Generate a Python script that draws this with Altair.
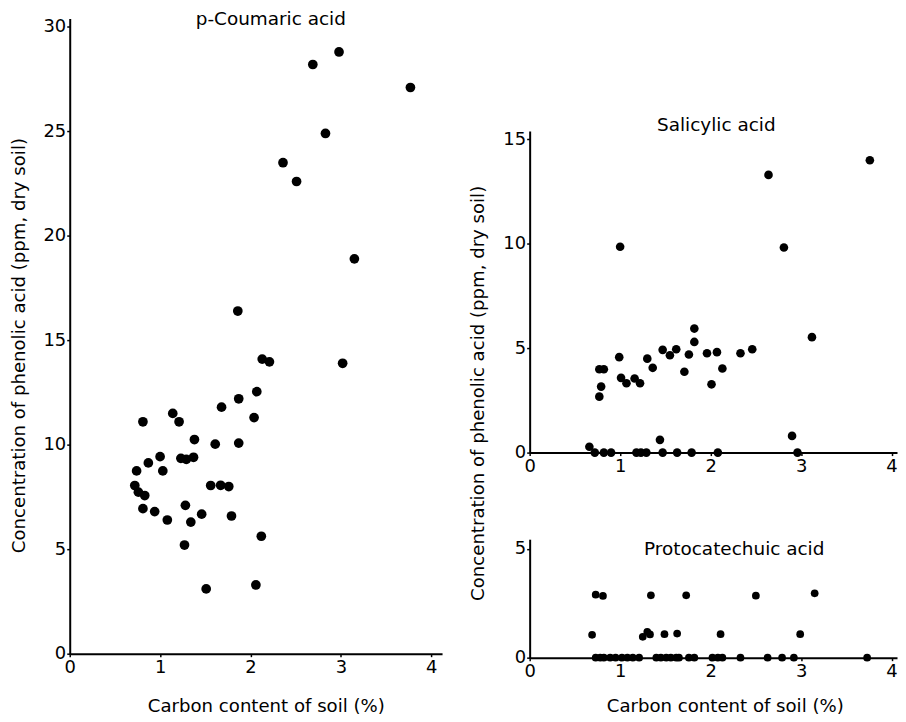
import altair as alt
import pandas as pd

# ---- p-Coumaric acid (carbon %, ppm) ----
pc_x = [2.13, 2.21, 3.02, 2.07, 1.87, 1.68, 2.04, 1.14, 1.21, 0.81, 1.38, 1.61, 1.87,
        1.00, 0.87, 0.74, 1.03, 1.23, 1.29, 1.37, 0.72, 0.76, 0.83, 1.56, 1.67, 1.76,
        0.81, 0.94, 1.08, 1.28, 1.34, 1.46, 1.79, 1.27, 2.12, 1.51, 2.06,
        2.98, 2.69, 3.77, 2.83, 2.36, 2.51, 3.15, 1.86]
pc_y = [14.1, 13.97, 13.9, 12.54, 12.2, 11.8, 11.3, 11.5, 11.1, 11.1, 10.25, 10.03, 10.08,
        9.43, 9.13, 8.75, 8.75, 9.35, 9.3, 9.4, 8.05, 7.73, 7.57, 8.05, 8.06, 8.0,
        6.94, 6.8, 6.4, 7.1, 6.3, 6.68, 6.59, 5.2, 5.62, 3.1, 3.29,
        28.8, 28.2, 27.1, 24.9, 23.5, 22.6, 18.9, 16.4]

# ---- Salicylic acid ----
sa_x = [3.76, 2.64, 1.00, 2.81, 1.82, 1.82, 3.12, 1.47, 1.55, 1.62, 1.76, 1.96, 2.07,
        2.33, 2.46, 0.99, 1.30, 1.36, 1.71, 2.13, 2.01, 0.77, 0.82, 0.79, 0.77, 1.01,
        1.07, 1.16, 1.22, 1.44, 2.90, 0.66,
        0.72, 0.82, 0.90, 1.18, 1.23, 1.29, 1.47, 1.63, 1.79, 2.08, 2.96]
sa_y = [14.0, 13.3, 9.86, 9.82, 5.94, 5.3, 5.53, 4.92, 4.66, 4.95, 4.7, 4.76, 4.81,
        4.76, 4.95, 4.57, 4.5, 4.06, 3.87, 4.03, 3.27, 3.99, 3.99, 3.16, 2.68, 3.58,
        3.32, 3.55, 3.32, 0.61, 0.8, 0.28,
        0, 0, 0, 0, 0, 0, 0, 0, 0, 0, 0]

# ---- Protocatechuic acid ----
pa_x = [0.73, 0.81, 1.34, 1.73, 2.50, 3.15, 0.69, 1.25, 1.30, 1.33, 1.49, 1.63, 2.11, 2.99,
        0.73, 0.78, 0.82, 0.89, 0.95, 1.02, 1.08, 1.14, 1.21, 1.40, 1.45, 1.51, 1.56,
        1.62, 1.65, 1.76, 1.82, 2.02, 2.08, 2.13, 2.33, 2.63, 2.79, 2.92, 3.73]
pa_y = [2.9, 2.84, 2.87, 2.87, 2.85, 2.96, 1.05, 0.96, 1.19, 1.07, 1.08, 1.11, 1.08, 1.08,
        0, 0, 0, 0, 0, 0, 0, 0, 0, 0, 0, 0, 0,
        0, 0, 0, 0, 0, 0, 0, 0, 0, 0, 0, 0]

FONT = "DejaVu Sans"
YTITLE = "Concentration of phenolic acid (ppm, dry soil)"
XTITLE = "Carbon content of soil (%)"


def panel(xs, ys, title, tdx, toff, xdom, width, ydom, height, yvals, size,
          xtitle=None, xtx=0, xty=0, ytitle=None, ytx=0, yty=0):
    df = pd.DataFrame({"carbon": xs, "conc": ys})
    xaxis_kw = dict(values=[0, 1, 2, 3, 4], format="d")
    if xtitle:
        xaxis_kw.update(title=xtitle, titleX=xtx, titleY=xty)
    else:
        xaxis_kw.update(title=None)
    yaxis_kw = dict(values=yvals, format="d")
    if ytitle:
        yaxis_kw.update(title=ytitle, titleX=ytx, titleY=yty)
    else:
        yaxis_kw.update(title=None)
    return (
        alt.Chart(df)
        .mark_circle(color="black", opacity=1, size=size)
        .encode(
            x=alt.X("carbon:Q", scale=alt.Scale(domain=xdom, nice=False, zero=False),
                    axis=alt.Axis(**xaxis_kw)),
            y=alt.Y("conc:Q", scale=alt.Scale(domain=ydom, nice=False, zero=False),
                    axis=alt.Axis(**yaxis_kw)),
        )
        .properties(
            width=width, height=height,
            title=alt.TitleParams(title, anchor="middle", frame="group", offset=toff, dx=tdx,
                                  baseline="alphabetic", font=FONT, fontSize=18.5,
                                  fontWeight="normal", color="black"),
        )
    )


left = panel(pc_x, pc_y, "p-Coumaric acid", 15, -26, [0, 4.12], 374, [0, 30.4], 638,
             [0, 5, 10, 15, 20, 25, 30], 95,
             xtitle=XTITLE, xtx=197, xty=53, ytitle=YTITLE, ytx=-50, yty=328)

top = panel(sa_x, sa_y, "Salicylic acid", 3, -19, [0, 4.06], 369, [0, 15.4], 323,
            [0, 5, 10, 15], 75,
            ytitle=YTITLE, ytx=-51, yty=263)

bottom = panel(pa_x, pa_y, "Protocatechuic acid", 21, -34, [0, 4.06], 369, [0, 5.45], 119,
               [0, 5], 60,
               xtitle=XTITLE, xtx=196, xty=49)

spacer = (
    alt.Chart(pd.DataFrame({"v": [0]}))
    .mark_point(opacity=0)
    .encode(x=alt.value(0), y=alt.value(0))
    .properties(width=369, height=26)
)

right = alt.vconcat(spacer, top, bottom, spacing=87, bounds="flush")

chart = (
    alt.hconcat(left, right, spacing=88, bounds="flush")
    .properties(padding={"left": 2, "top": 0, "right": 0, "bottom": 0})
    .configure_view(stroke=None)
    .configure_axis(
        grid=False,
        domainColor="black", domainWidth=2,
        tickColor="black", tickSize=3, tickWidth=1.5,
        labelColor="black", labelFont=FONT, labelFontSize=18, labelPadding=1,
        titleColor="black", titleFont=FONT, titleFontSize=18.2, titleFontWeight="normal",
        titleBaseline="middle", titleAlign="center",
        labelFlush=False, labelOverlap=False,
    )
    .configure_axisX(labelPadding=2)
)

chart.save("out.html", embed_options={"renderer": "svg", "actions": False})
